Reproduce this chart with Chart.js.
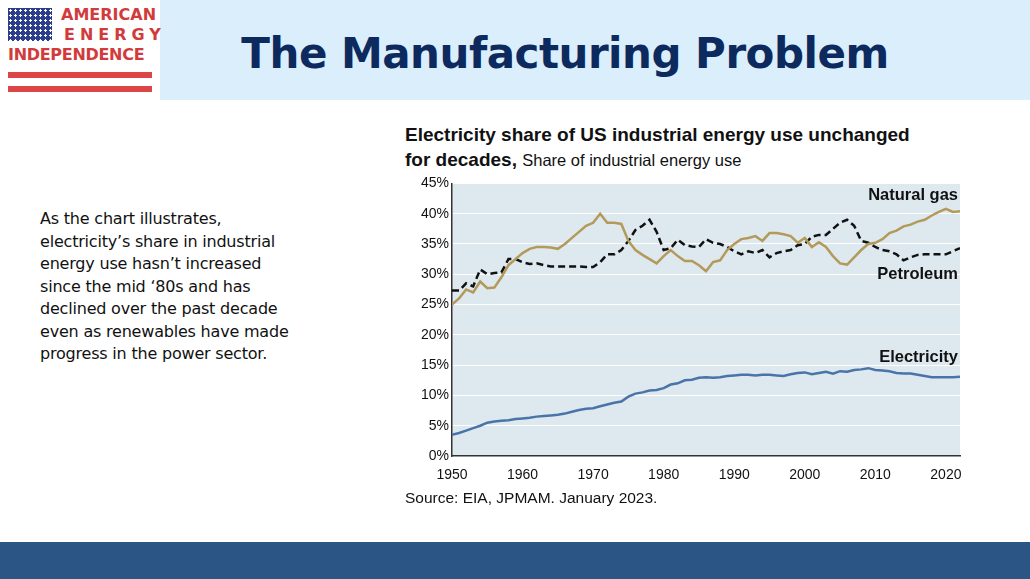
<!DOCTYPE html>
<html><head><meta charset="utf-8">
<script src="https://cdn.jsdelivr.net/npm/chart.js@4"></script>
<style>
body{margin:0;width:1030px;height:579px;position:relative;background:#fff;font-family:"Liberation Sans",Arial,sans-serif;overflow:hidden}
#hdr{position:absolute;left:160px;top:0;width:870px;height:100px;background:#daeefb}
#title{position:absolute;left:160px;width:810px;top:29px;text-align:center;font:bold 42px "DejaVu Sans",sans-serif;letter-spacing:-0.5px;color:#0d2a5e}
#foot{position:absolute;left:0;top:542px;width:1030px;height:37px;background:#2a5584}
#flag{position:absolute;left:8px;top:8px;width:44px;height:33px;background:#2b3d8c;background-image:radial-gradient(#fff 1px,transparent 1.3px);background-size:5px 5px}
.lt{position:absolute;color:#d23b3b;font:bold 16px "DejaVu Sans",sans-serif}
.st{position:absolute;left:8px;width:144px;height:6px;background:#dc4646}
#txt{position:absolute;left:40px;top:208px;font:16px "DejaVu Sans",sans-serif;line-height:22.5px;color:#111;letter-spacing:-0.2px}
#ct{position:absolute;left:405px;top:122px;font:bold 19px "Liberation Sans",Arial,sans-serif;color:#111;line-height:25px}
#ct span{font-weight:normal;font-size:16.5px}
#src{position:absolute;left:405px;top:489px;font:15.5px "Liberation Sans",Arial,sans-serif;color:#111}
#wrap{position:absolute;left:395px;top:172px;width:570px;height:328px}
</style></head><body>
<div id="hdr"></div>
<div id="title">The Manufacturing Problem</div>
<div id="flag"></div>
<div class="lt" style="left:61px;top:5px">AMERICAN</div>
<div class="lt" style="left:64px;top:25px;letter-spacing:5px">ENERGY</div>
<div class="lt" style="left:8px;top:45px;letter-spacing:-0.3px">INDEPENDENCE</div>
<div class="st" style="top:72px"></div><div class="st" style="top:86px"></div>
<div id="txt">As the chart illustrates,<br>electricity’s share in industrial<br>energy use hasn’t increased<br>since the mid ‘80s and has<br>declined over the past decade<br>even as renewables have made<br>progress in the power sector.</div>
<div id="ct">Electricity share of US industrial energy use unchanged<br>for decades, <span>Share of industrial energy use</span></div>
<div id="wrap"><canvas id="c"></canvas></div>
<div id="src">Source: EIA, JPMAM. January 2023.</div>
<div id="foot"></div>
<script>
const startYear = 1950;
const naturalGas = [25,26,27.5,27,28.8,27.7,27.8,29.5,31.5,32.5,33.5,34.2,34.5,34.5,34.4,34.2,35,36,37,38,38.5,40,38.5,38.5,38.3,35.5,34,33.2,32.5,31.8,33,34,33,32.2,32.2,31.5,30.5,32,32.3,34,35,35.8,36,36.3,35.5,36.8,36.8,36.6,36.3,35.2,36,34.5,35.3,34.5,33,31.8,31.6,32.8,34,35,35.2,35.8,36.8,37.2,37.9,38.2,38.7,39,39.7,40.3,40.8,40.3,40.4];
const petroleum = [27.3,27.3,28.5,28,30.8,30,30.2,30.3,32.5,32.5,32,31.7,31.8,31.5,31.3,31.3,31.3,31.3,31.3,31.2,31.2,32,33.3,33.3,34,35.5,37.3,38,39,37,34,34.3,35.7,34.8,34.6,34.5,35.8,35.2,35,34.5,33.8,33.3,33.8,33.5,34,32.8,33.5,33.8,34,34.8,35,36.2,36.5,36.5,37.5,38.5,39,38,35.5,35.2,34.5,34,33.8,33.3,32.3,32.8,33.2,33.3,33.3,33.3,33.3,33.8,34.3];
const electricity = [3.5,3.8,4.2,4.6,5,5.5,5.7,5.8,5.9,6.1,6.2,6.3,6.5,6.6,6.7,6.8,7,7.3,7.6,7.8,7.9,8.2,8.5,8.8,9,9.8,10.3,10.5,10.8,10.9,11.2,11.8,12,12.5,12.6,12.9,13,12.9,13,13.2,13.3,13.4,13.4,13.3,13.4,13.4,13.3,13.2,13.5,13.7,13.8,13.5,13.7,13.9,13.6,14,13.9,14.2,14.3,14.5,14.2,14.1,14,13.7,13.6,13.6,13.4,13.2,13,13,13,13,13.1];
const seriesLabels = [{text:'Natural gas', y:43}, {text:'Petroleum', y:30}, {text:'Electricity', y:16.2}];
const yTicks = [0,5,10,15,20,25,30,35,40,45];
const xTicks = [1950,1960,1970,1980,1990,2000,2010,2020];

const pts = arr => arr.map((v, i) => ({x: startYear + i, y: v}));

const bgPlugin = {
  id: 'bg',
  beforeDraw(chart) {
    const {ctx, chartArea: a} = chart;
    ctx.save(); ctx.fillStyle = '#dde9ef'; ctx.fillRect(a.left, a.top, a.right - a.left, a.bottom - a.top); ctx.restore();
  },
  afterDatasetsDraw(chart) {
    const {ctx, scales} = chart;
    ctx.save();
    ctx.font = 'bold 16.5px "Liberation Sans", Arial, sans-serif';
    ctx.fillStyle = '#111'; ctx.textAlign = 'right'; ctx.textBaseline = 'middle';
    seriesLabels.forEach(l => ctx.fillText(l.text, scales.x.getPixelForValue(2022) - 2, scales.y.getPixelForValue(l.y)));
    ctx.restore();
  }
};

new Chart(document.getElementById('c'), {
  type: 'line',
  data: { datasets: [
    { label: 'Natural gas', data: pts(naturalGas), borderColor: '#b39a5a', borderWidth: 2.5, pointRadius: 0, tension: 0 },
    { label: 'Petroleum', data: pts(petroleum), borderColor: '#111', borderWidth: 2.5, borderDash: [7, 4], pointRadius: 0, tension: 0 },
    { label: 'Electricity', data: pts(electricity), borderColor: '#4a74a8', borderWidth: 2.5, pointRadius: 0, tension: 0 }
  ]},
  options: {
    responsive: true, maintainAspectRatio: false, animation: false,
    layout: { padding: { top: 9, right: 5 } },
    plugins: { legend: { display: false }, tooltip: { enabled: false } },
    scales: {
      x: { type: 'linear', min: 1950, max: 2022,
        afterBuildTicks: s => { s.ticks = xTicks.map(v => ({value: v})); },
        afterFit: s => { s.height = 44; },
        ticks: { color: '#111', font: { size: 14, family: '"Liberation Sans", Arial' }, callback: v => String(v), maxRotation: 0 },
        grid: { display: false }, border: { color: '#333', width: 1.5 } },
      y: { min: 0, max: 45,
        afterBuildTicks: s => { s.ticks = yTicks.map(v => ({value: v})); },
        afterFit: s => { s.width = 57; },
        ticks: { color: '#111', font: { size: 14, family: '"Liberation Sans", Arial' }, callback: v => v + '%' },
        grid: { color: '#fff', lineWidth: 1, drawTicks: false }, border: { color: '#333', width: 1.5 } }
    }
  },
  plugins: [bgPlugin]
});
</script>
</body></html>
